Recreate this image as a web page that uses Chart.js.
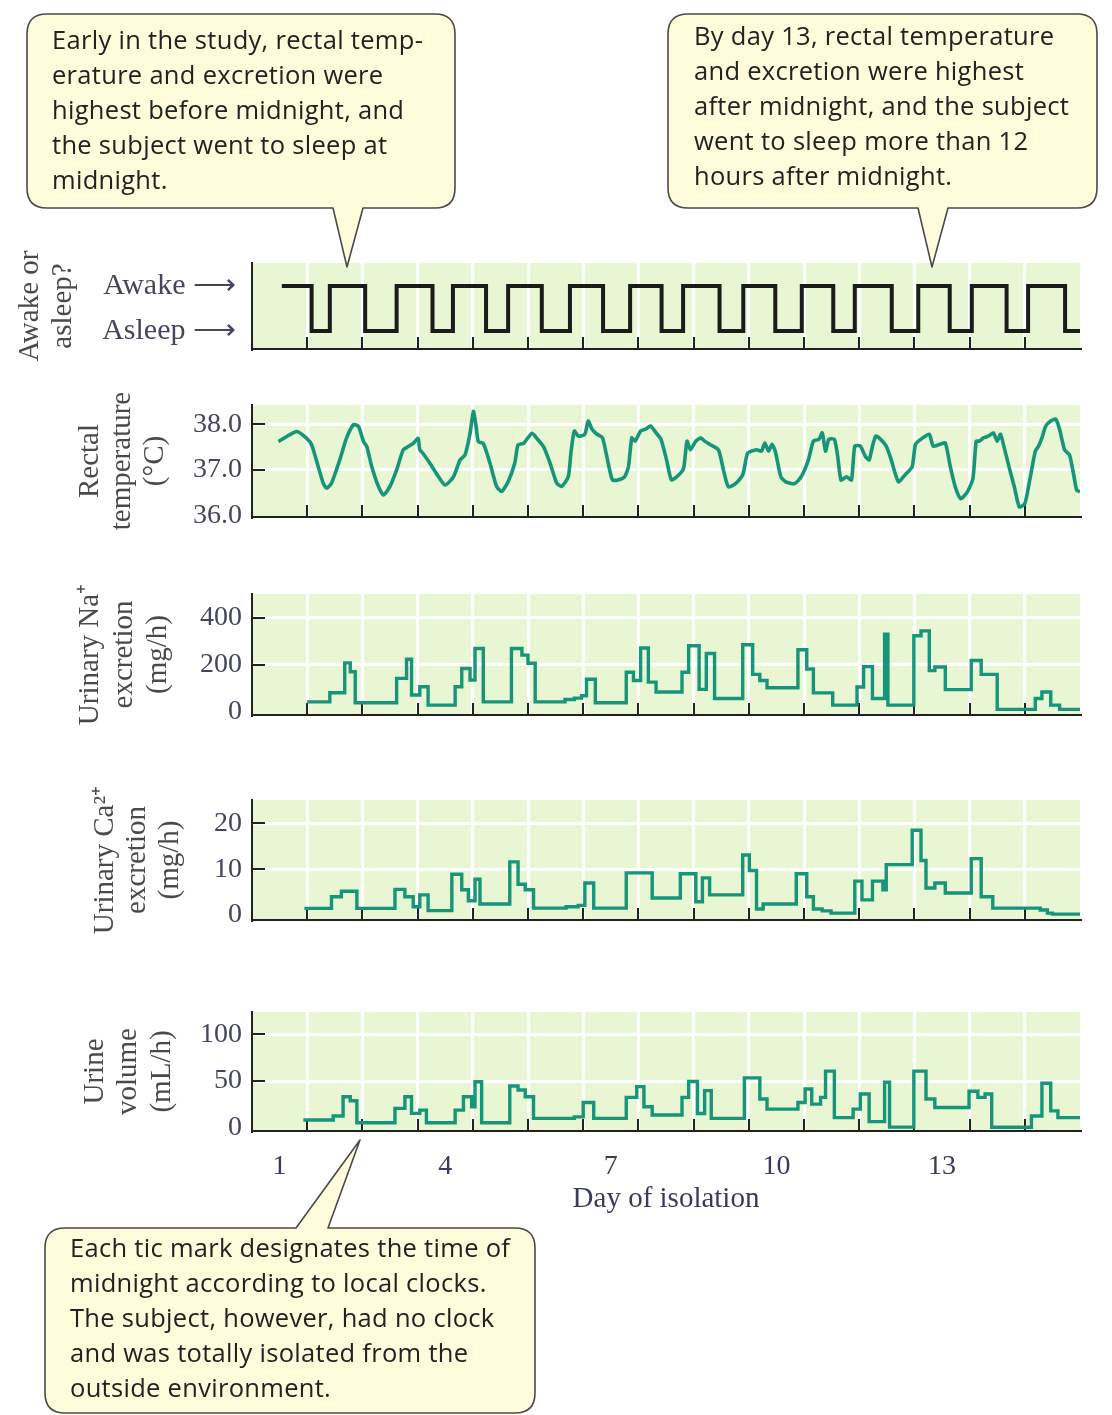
<!DOCTYPE html>
<html lang="en">
<head>
<meta charset="utf-8">
<title>Rhythms during isolation</title>
<script src="https://cdn.jsdelivr.net/npm/chart.js@4.4.1/dist/chart.umd.min.js"></script>
<style>
  html, body { margin: 0; padding: 0; background: #fff; }
  #page { position: relative; width: 1112px; height: 1415px; overflow: hidden; background: #fff; }
  #page canvas { position: absolute; left: 0; }
  #bubbles { position: absolute; left: 0; top: 0; }
  .note {
    position: absolute;
    font-family: 'Open Sans', 'Liberation Sans', sans-serif;
    font-size: 25.5px;
    letter-spacing: 0.3px;
    line-height: 35px;
    color: #222;
    white-space: nowrap;
  }
</style>
</head>
<body>
<div id="page">
  <svg id="bubbles" width="1112" height="1415">
    <g fill="#fefcdb" stroke="#4a4a4a" stroke-width="1.6" stroke-linejoin="round">
      <path d="M47,14 H435 Q455,14 455,34 V188 Q455,208 435,208 H363 L347,267 L333,208 H47 Q27,208 27,188 V34 Q27,14 47,14 Z"/>
      <path d="M688,14 H1077 Q1097,14 1097,34 V188 Q1097,208 1077,208 H948 L932,267 L918,208 H688 Q668,208 668,188 V34 Q668,14 688,14 Z"/>
      <path d="M65,1228 H296 L360,1140 L328,1228 H515 Q535,1228 535,1248 V1393 Q535,1413 515,1413 H65 Q45,1413 45,1393 V1248 Q45,1228 65,1228 Z"/>
    </g>
  </svg>
  <div class="note" style="left:52px; top:22px">Early in the study, rectal temp-<br>erature and excretion were<br>highest before midnight, and<br>the subject went to sleep at<br>midnight.</div>
  <div class="note" style="left:694px; top:18px">By day 13, rectal temperature<br>and excretion were highest<br>after midnight, and the subject<br>went to sleep more than 12<br>hours after midnight.</div>
  <div class="note" style="left:70px; top:1230px">Each tic mark designates the time of<br>midnight according to local clocks.<br>The subject, however, had no clock<br>and was totally isolated from the<br>outside environment.</div>
</div>
<script>
// x values are days since the start of isolation (0..15)
const dayNumbers = [1, 4, 7, 10, 13];
const midnights = [1, 2, 3, 4, 5, 6, 7, 8, 9, 10, 11, 12, 13, 14];

// awake = 1, asleep = 0; each state holds from its day until the next entry
const sleepDays = [0.54, 1.08, 1.41, 2.05, 2.62, 3.27, 3.64, 4.24, 4.64, 5.25,
  5.76, 6.36, 6.85, 7.42, 7.81, 8.47, 8.9, 9.48, 9.96, 10.53,
  10.92, 11.59, 12.07, 12.64, 13.04, 13.67, 14.06, 14.73, 15.0];
const sleepStates = [1, 0, 1, 0, 1, 0, 1, 0, 1, 0,
  1, 0, 1, 0, 1, 0, 1, 0, 1, 0,
  1, 0, 1, 0, 1, 0, 1, 0, 0];
const sleepLabels = ['Asleep', 'Awake'];

// rectal temperature, deg C
const tempDays = [0.48, 0.81, 0.99, 1.08, 1.2, 1.29, 1.35, 1.44, 1.59, 1.71,
  1.84, 1.93, 2.02, 2.08, 2.17, 2.29, 2.38, 2.5, 2.62, 2.74,
  2.83, 2.92, 3.01, 3.04, 3.1, 3.22, 3.38, 3.5, 3.65, 3.77,
  3.86, 3.95, 4.01, 4.06, 4.1, 4.19, 4.31, 4.43, 4.52, 4.64,
  4.76, 4.82, 4.92, 5.07, 5.16, 5.28, 5.4, 5.52, 5.61, 5.73,
  5.78, 5.84, 5.91, 6.03, 6.09, 6.16, 6.25, 6.35, 6.44, 6.53,
  6.63, 6.75, 6.82, 6.88, 6.94, 7.04, 7.13, 7.22, 7.32, 7.41,
  7.51, 7.6, 7.73, 7.82, 7.88, 7.94, 8.04, 8.13, 8.2, 8.29,
  8.45, 8.54, 8.63, 8.76, 8.89, 8.98, 9.14, 9.23, 9.29, 9.36,
  9.42, 9.48, 9.58, 9.67, 9.83, 9.95, 10.08, 10.17, 10.27, 10.33,
  10.39, 10.45, 10.55, 10.61, 10.67, 10.77, 10.86, 10.92, 11.02, 11.11,
  11.18, 11.24, 11.3, 11.36, 11.49, 11.58, 11.71, 11.83, 11.96, 12.02,
  12.15, 12.27, 12.34, 12.46, 12.56, 12.65, 12.74, 12.84, 12.96, 13.06,
  13.12, 13.18, 13.25, 13.34, 13.43, 13.5, 13.56, 13.62, 13.72, 13.81,
  13.9, 14.0, 14.09, 14.19, 14.25, 14.31, 14.38, 14.47, 14.56, 14.63,
  14.72, 14.81, 14.88, 14.94, 15.0];
const tempValues = [37.62, 37.84, 37.69, 37.55, 37.07, 36.71, 36.6, 36.71, 37.22, 37.69,
  37.99, 37.95, 37.62, 37.51, 37.07, 36.64, 36.45, 36.64, 37.0, 37.44,
  37.51, 37.58, 37.69, 37.44, 37.36, 37.15, 36.85, 36.67, 36.85, 37.22,
  37.33, 37.8, 38.28, 37.95, 37.62, 37.58, 37.15, 36.64, 36.53, 36.74,
  37.15, 37.55, 37.58, 37.8, 37.69, 37.51, 37.15, 36.71, 36.64, 36.85,
  37.4, 37.85, 37.74, 37.78, 38.07, 37.89, 37.78, 37.7, 37.22, 36.78,
  36.78, 36.85, 37.07, 37.7, 37.63, 37.85, 37.89, 37.96, 37.81, 37.67,
  37.22, 36.78, 36.89, 37.04, 37.63, 37.44, 37.63, 37.7, 37.63, 37.56,
  37.44, 37.0, 36.63, 36.7, 36.89, 37.37, 37.44, 37.41, 37.59, 37.41,
  37.56, 37.41, 36.85, 36.74, 36.7, 36.85, 37.22, 37.63, 37.67, 37.81,
  37.41, 37.67, 37.67, 37.3, 36.78, 36.85, 36.78, 37.52, 37.52, 37.3,
  37.22, 37.52, 37.74, 37.7, 37.52, 37.22, 36.74, 36.89, 37.07, 37.56,
  37.7, 37.78, 37.52, 37.56, 37.59, 37.07, 36.63, 36.37, 36.52, 36.81,
  37.63, 37.63, 37.7, 37.74, 37.81, 37.63, 37.78, 37.52, 37.04, 36.63,
  36.19, 36.26, 36.78, 37.41, 37.52, 37.7, 37.96, 38.07, 38.11, 37.89,
  37.44, 37.33, 36.93, 36.56, 36.52];
const tempTicks = [36, 37, 38];

// urinary Na+ excretion, mg/h (step values from each day mark)
const naDays = [1.0, 1.41, 1.68, 1.78, 1.87, 2.62, 2.8, 2.89, 3.04, 3.19,
  3.68, 3.8, 3.95, 4.04, 4.19, 4.7, 4.89, 5.0, 5.13, 5.67,
  5.84, 5.97, 6.06, 6.22, 6.78, 6.91, 7.04, 7.18, 7.32, 7.79,
  7.91, 8.1, 8.23, 8.38, 8.89, 9.07, 9.2, 9.33, 9.89, 10.05,
  10.17, 10.52, 10.96, 11.08, 11.24, 11.46, 11.52, 11.99, 12.12, 12.27,
  12.37, 12.56, 13.03, 13.21, 13.5, 14.19, 14.31, 14.47, 14.63, 15.0];
const naValues = [42, 81, 208, 170, 38, 142, 223, 71, 106, 28,
  106, 184, 135, 269, 42, 269, 241, 206, 42, 52,
  58, 68, 138, 38, 168, 133, 271, 126, 84, 168,
  281, 95, 248, 56, 285, 159, 133, 102, 264, 182,
  80, 28, 105, 192, 56, 330, 28, 323, 344, 175,
  190, 94, 218, 159, 10, 56, 84, 28, 10, 10];
const naTicks = [0, 200, 400];

// urinary Ca2+ excretion, mg/h
const caDays = [0.95, 1.44, 1.62, 1.9, 2.59, 2.77, 2.92, 3.04, 3.19, 3.62,
  3.8, 3.92, 4.04, 4.13, 4.67, 4.82, 4.95, 5.1, 5.69, 5.91,
  6.03, 6.19, 6.78, 7.25, 7.76, 8.04, 8.16, 8.29, 8.89, 9.01,
  9.14, 9.26, 9.86, 10.05, 10.17, 10.33, 10.49, 10.92, 11.05, 11.24,
  11.43, 11.49, 11.96, 12.12, 12.21, 12.37, 12.56, 13.03, 13.21, 13.42,
  14.28, 14.41, 14.5, 15.0];
const caValues = [1.45, 4.0, 5.2, 1.45, 5.6, 4.0, 1.8, 4.4, 0.95, 8.9,
  5.5, 3.1, 7.8, 2.4, 11.6, 6.7, 5.5, 1.5, 1.8, 2.1,
  7.0, 1.5, 9.2, 3.7, 9.0, 2.9, 8.1, 4.4, 13.1, 9.7,
  1.3, 2.4, 9.0, 4.0, 1.3, 0.9, 0.4, 7.4, 3.3, 7.4,
  5.5, 11.0, 18.5, 11.9, 5.9, 7.0, 4.8, 12.3, 4.0, 1.5,
  1.1, 0.4, 0.2, 0.2];
const caTicks = [0, 10, 20];

// urine volume, mL/h
const urineDays = [0.93, 1.47, 1.65, 1.78, 1.9, 2.59, 2.77, 2.89, 3.04, 3.16,
  3.68, 3.83, 3.98, 4.04, 4.16, 4.67, 4.82, 4.95, 5.1, 5.84,
  6.0, 6.19, 6.78, 6.97, 7.1, 7.25, 7.79, 7.91, 8.07, 8.2,
  8.32, 8.92, 9.2, 9.33, 9.89, 10.02, 10.14, 10.3, 10.39, 10.55,
  10.89, 11.02, 11.18, 11.46, 11.55, 11.99, 12.21, 12.37, 12.99, 13.15,
  13.28, 13.4, 14.12, 14.31, 14.47, 14.6, 15.0];
const urineValues = [8.2, 12.5, 33.2, 28.9, 5.4, 20.7, 33.2, 15.4, 18.9, 5.4,
  18.9, 33.2, 22.5, 49.3, 5.4, 44.6, 40.4, 33.2, 10, 11.6,
  27, 10, 32.5, 44, 22.4, 13.7, 32.5, 49.5, 15.2, 39.7,
  10, 53.4, 30.7, 19.9, 27, 41.5, 25.3, 32.5, 60.6, 10.8,
  19.9, 36.1, 6.5, 48.7, 0.7, 60.6, 30.7, 21.7, 39, 32.5,
  36.1, 0.5, 12.6, 47.7, 18, 10.8, 10.8];
const urineTicks = [0, 50, 100];

// ---- look ----
const PAGE_W = 1112;
const PLOT_LEFT = 252;
const PLOT_RIGHT = 1080;
const BG_GREEN = '#e8f6d4';
const TEAL = '#17957a';
const INK = '#222';
const TICK_COLOR = '#45465e';
const TITLE_COLOR = '#4a4a4a';
const SERIF = "'Liberation Serif', 'Times New Roman', serif";

// green plot background + the little inside tic marks
const panelDecor = {
  id: 'panelDecor',
  beforeDraw(chart) {
    const { ctx, chartArea: a } = chart;
    ctx.save();
    ctx.fillStyle = BG_GREEN;
    ctx.fillRect(a.left, a.top, a.right - a.left, a.bottom - a.top);
    ctx.restore();
  },
  beforeDatasetsDraw(chart, args, opts) {
    const { ctx, chartArea: a, scales } = chart;
    ctx.save();
    ctx.strokeStyle = INK;
    ctx.lineWidth = 2;
    ctx.beginPath();
    midnights.forEach(d => {
      const x = Math.round(scales.x.getPixelForValue(d));
      ctx.moveTo(x, a.bottom);
      ctx.lineTo(x, a.bottom - 12);
    });
    (opts.yTicks || []).forEach(v => {
      const y = Math.round(scales.y.getPixelForValue(v));
      ctx.moveTo(a.left, y);
      ctx.lineTo(a.left + 13, y);
    });
    ctx.stroke();
    ctx.restore();
  }
};

const panels = [
  {
    days: sleepDays, values: sleepStates, top: 263, bottom: 349,
    yMin: -0.4, yMax: 1.51, yTicks: [0, 1], grid: false,
    label: v => sleepLabels[v] + ' \u27f6', tickPad: 16, tickSize: 30,
    color: '#1b1b1b', width: 4, stepped: true,
    title: ['Awake or', 'asleep?'], titleX: 30, titleLH: 33
  },
  {
    days: tempDays, values: tempValues, top: 405, bottom: 517,
    yMin: 35.97, yMax: 38.42, yTicks: tempTicks, grid: true,
    label: v => v.toFixed(1), tickPad: 10, tickSize: 28,
    color: TEAL, width: 3.6, stepped: false,
    title: ['Rectal', 'temperature', '(\u00b0C)'], titleX: 90, titleLH: 32.5
  },
  {
    days: naDays, values: naValues, top: 594, bottom: 715,
    yMin: -14, yMax: 501, yTicks: naTicks, grid: true,
    label: v => String(v), tickPad: 10, tickSize: 28,
    color: TEAL, width: 3.4, stepped: true,
    title: ['Urinary Na\u207a', 'excretion', '(mg/h)'], titleX: 90, titleLH: 34
  },
  {
    days: caDays, values: caValues, top: 800, bottom: 920,
    yMin: -1.09, yMax: 25.1, yTicks: caTicks, grid: true,
    label: v => String(v), tickPad: 10, tickSize: 28,
    color: TEAL, width: 3.4, stepped: true,
    title: ['Urinary Ca\u00b2\u207a', 'excretion', '(mg/h)'], titleX: 105, titleLH: 32.5
  },
  {
    days: urineDays, values: urineValues, top: 1012, bottom: 1131,
    yMin: -3.5, yMax: 123.9, yTicks: urineTicks, grid: true,
    label: v => String(v), tickPad: 10, tickSize: 28,
    color: TEAL, width: 3.4, stepped: true,
    title: ['Urine', 'volume', '(mL/h)'], titleX: 95, titleLH: 33.5,
    dayAxis: true
  }
];

const page = document.getElementById('page');
const bubbles = document.getElementById('bubbles');

panels.forEach(p => {
  const padTop = 40;
  const padBottom = p.dayAxis ? 8 : 40;
  const dayAxisH = 90;
  const canvas = document.createElement('canvas');
  canvas.width = PAGE_W;
  canvas.height = (p.bottom - p.top) + padTop + padBottom + (p.dayAxis ? dayAxisH : 0);
  canvas.style.top = (p.top - padTop) + 'px';
  page.insertBefore(canvas, bubbles);

  const scales = {
    x: {
      type: 'linear', position: 'bottom', min: 0, max: 15, weight: 0,
      afterBuildTicks: s => { s.ticks = midnights.map(v => ({ value: v })); },
      afterFit: s => { s.height = 0; },
      grid: { color: '#ffffff', lineWidth: 3, drawTicks: false },
      border: { display: true, color: INK, width: 2 },
      ticks: { display: false }
    },
    y: {
      type: 'linear', min: p.yMin, max: p.yMax,
      afterBuildTicks: s => { s.ticks = p.yTicks.map(v => ({ value: v })); },
      afterFit: s => { s.width = PLOT_LEFT; },
      grid: {
        display: p.grid,
        drawTicks: false,
        lineWidth: 3,
        color: c => (c.tick && c.tick.value === p.yTicks[0]) ? 'rgba(0,0,0,0)' : '#ffffff'
      },
      border: { display: true, color: INK, width: 2 },
      ticks: {
        padding: p.tickPad,
        color: TICK_COLOR,
        font: { family: SERIF, size: p.tickSize },
        callback: v => p.label(v)
      },
      title: {
        display: true,
        text: p.title,
        color: TITLE_COLOR,
        font: { family: SERIF, size: 29, lineHeight: p.titleLH + 'px' },
        padding: { top: p.titleX - p.titleLH / 2, bottom: 0 }
      }
    }
  };

  if (p.dayAxis) {
    scales.xd = {
      type: 'linear', position: 'bottom', min: 0, max: 15, weight: 1,
      afterBuildTicks: s => { s.ticks = dayNumbers.map(d => ({ value: d - 0.5 })); },
      afterFit: s => { s.height = dayAxisH; },
      grid: { display: false, drawTicks: false },
      border: { display: false },
      ticks: {
        padding: 19,
        color: '#3a3b5c',
        font: { family: SERIF, size: 28 },
        callback: (v, i) => String(dayNumbers[i])
      },
      title: {
        display: true,
        text: 'Day of isolation',
        color: '#3a3b5c',
        font: { family: SERIF, size: 29 },
        padding: { top: 0, bottom: 4 }
      }
    };
  }

  new Chart(canvas.getContext('2d'), {
    type: 'line',
    data: {
      datasets: [{
        data: p.days.map((d, i) => ({ x: d, y: p.values[i] })),
        borderColor: p.color,
        borderWidth: p.width,
        pointRadius: 0,
        fill: false,
        stepped: p.stepped ? 'before' : false,
        tension: p.stepped ? 0 : 0.2,
        borderJoinStyle: p.stepped ? 'miter' : 'round',
        borderCapStyle: 'butt'
      }]
    },
    options: {
      responsive: false,
      animation: false,
      events: [],
      layout: { padding: { left: 0, right: PAGE_W - PLOT_RIGHT, top: padTop, bottom: padBottom } },
      plugins: {
        legend: { display: false },
        tooltip: { enabled: false },
        panelDecor: { yTicks: p.grid ? p.yTicks.slice(1) : [] }
      },
      scales
    },
    plugins: [panelDecor]
  });
});
</script>
</body>
</html>
